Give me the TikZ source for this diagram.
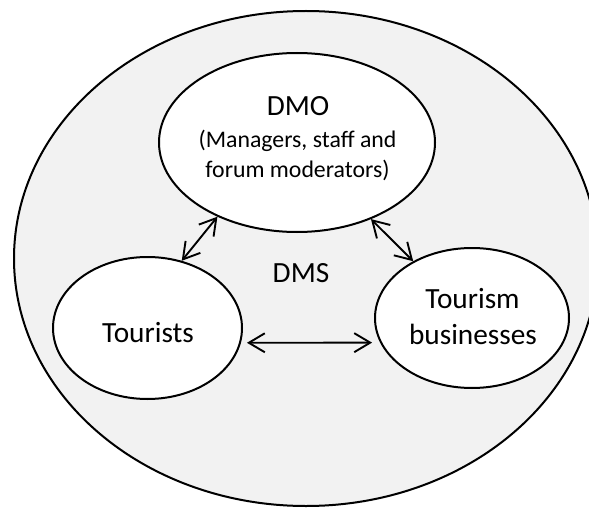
\documentclass[tikz,border=0pt]{standalone}
\usepackage{fontspec}
\setmainfont{Carlito}
\usetikzlibrary{shapes.geometric,arrows.meta}
\definecolor{sysgray}{HTML}{F2F2F2}
\begin{document}
\begin{tikzpicture}[x=1pt,y=-1pt,
  actor/.style={ellipse, draw, line width=2pt, fill=white, inner sep=0pt},
  bigtext/.style={font=\fontsize{29.3}{34}\selectfont, anchor=base, inner sep=0pt},
  smalltext/.style={font=\fontsize{23.8}{29}\selectfont, anchor=base, inner sep=0pt},
  barb/.tip={Straight Barb[length=16pt,width=19pt]},
  link/.style={line width=1.9pt, barb-barb}]
\useasboundingbox (0,0) rectangle (589,508);
\fill[white] (0,0) rectangle (589,508);

% destination management system (outer area)
\node[ellipse, draw, line width=2pt, fill=sysgray, inner sep=0pt,
      minimum width=584pt, minimum height=495pt] (system) at (306,258.5) {};

% stakeholder groups
\node[actor, minimum width=276pt, minimum height=179pt] (dmo) at (297,142.5) {};
\node[actor, minimum width=189pt, minimum height=142pt] (tourists) at (147.5,328) {};
\node[actor, minimum width=194pt, minimum height=140pt] (business) at (472,318) {};

% labels
\node[bigtext] (dmoname) at (298,116) {DMO};
\node[smalltext] (dmorole1) at (297.5,148) {(Managers, staff and};
\node[smalltext] (dmorole2) at (297.5,177) {forum moderators)};
\node[bigtext] (dmslabel) at (301,282) {DMS};
\node[bigtext] (touristsname) at (148,342) {Tourists};
\node[bigtext] (businessname1) at (472.5,308) {Tourism};
\node[bigtext] (businessname2) at (473,344) {businesses};

% two-way interactions
\draw[link] (dmo.223) -- (tourists.63);
\draw[link] (dmo.-46) -- (business.136);
\draw[link, shorten <=6pt, shorten >=8pt] (tourists.-9) -- (business.195);
\end{tikzpicture}
\end{document}
